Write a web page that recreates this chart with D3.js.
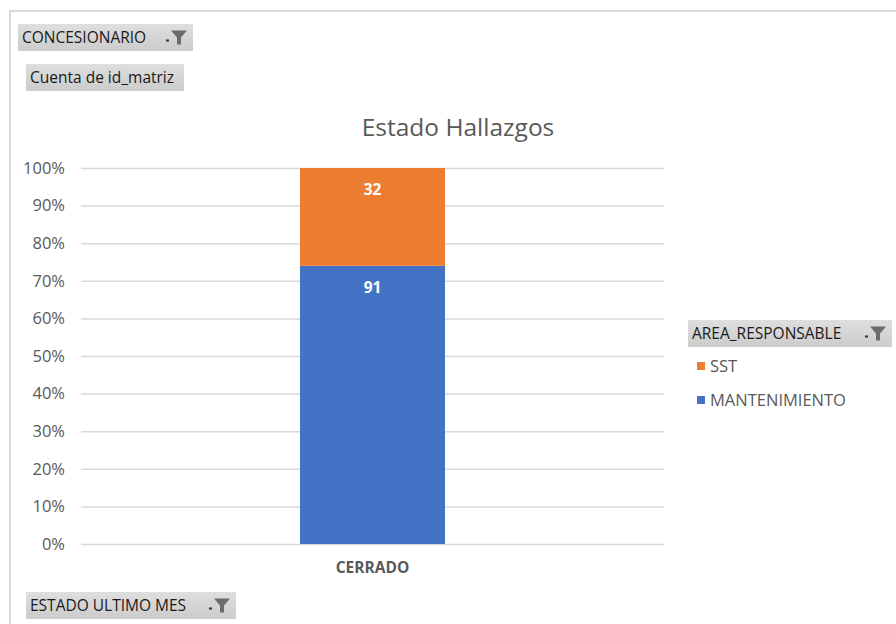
<!DOCTYPE html>
<html>
<head>
<meta charset="utf-8">
<script src="https://cdn.jsdelivr.net/npm/d3@7"></script>
<style>
  body { margin: 0; background: #fff; }
  svg { display: block; font-family: "Open Sans", sans-serif; }
</style>
</head>
<body>
<svg id="chart" width="896" height="624"></svg>
<script>
// data
const categories = ["CERRADO"];
const seriesNames = ["MANTENIMIENTO", "SST"];
const seriesColors = ["#4472c4", "#ed7d31"];
const mantenimiento = [91];
const sst = [32];
const yTicks = [0, 0.1, 0.2, 0.3, 0.4, 0.5, 0.6, 0.7, 0.8, 0.9, 1];

const svg = d3.select("#chart");
const grey = "#595959";

// outer frame
svg.append("path")
  .attr("d", "M10,624 V11 H896")
  .attr("fill", "none")
  .attr("stroke", "#d9d9d9")
  .attr("stroke-width", 2);

// button gradient
const defs = svg.append("defs");
const grad = defs.append("linearGradient").attr("id", "btn").attr("x1", 0).attr("y1", 0).attr("x2", 0).attr("y2", 1);
grad.append("stop").attr("offset", "0%").attr("stop-color", "#dedede");
grad.append("stop").attr("offset", "100%").attr("stop-color", "#cccccc");

function fieldButton(x, y, w, h, label, filter) {
  const g = svg.append("g").attr("transform", `translate(${x},${y})`);
  g.append("rect").attr("width", w).attr("height", h).attr("fill", "url(#btn)");
  g.append("text")
    .attr("x", 4).attr("y", h / 2 + 5.5)
    .attr("font-size", 15.5).attr("fill", "#1a1a1a")
    .text(label);
  if (filter) {
    const fx = w - 26;
    g.append("rect").attr("x", fx - 1).attr("y", h / 2 + 2).attr("width", 3).attr("height", 2).attr("fill", "#333");
    g.append("path")
      .attr("d", `M${fx + 4},${h / 2 - 7} h16 l-6,7 v7 h-4 v-7 z`)
      .attr("fill", "#6b6b6b");
  }
}

fieldButton(18, 24, 175, 27, "CONCESIONARIO", true);
fieldButton(26, 64, 158, 27, "Cuenta de id_matriz", false);
fieldButton(26, 592, 210, 27, "ESTADO ULTIMO MES", true);
fieldButton(688, 320, 204, 27, "AREA_RESPONSABLE", true);

// title
svg.append("text")
  .attr("x", 458).attr("y", 136)
  .attr("text-anchor", "middle")
  .attr("font-size", 24.5).attr("fill", grey)
  .text("Estado Hallazgos");

// scales
const x = d3.scaleBand().domain(categories).range([81, 664]).paddingInner(0).paddingOuter(0.5);
const y = d3.scaleLinear().domain([0, 1]).range([544, 168]);

// grid
const yAxis = d3.axisLeft(y).tickValues(yTicks).tickFormat(d3.format(".0%")).tickSize(-(664 - 81)).tickPadding(16);
const ga = svg.append("g").attr("transform", "translate(81,0)").call(yAxis);
ga.select(".domain").remove();
ga.selectAll(".tick line").attr("stroke", "#d9d9d9").attr("stroke-width", 1.5);
ga.selectAll(".tick text").attr("fill", grey).attr("font-size", 16.5).attr("font-family", "Open Sans, sans-serif");

// stacked bars (100%)
const rows = categories.map((c, i) => ({ cat: c, MANTENIMIENTO: mantenimiento[i], SST: sst[i] }));
const stack = d3.stack().keys(seriesNames).offset(d3.stackOffsetExpand);
const layers = stack(rows);
const barW = 145;
const color = d3.scaleOrdinal().domain(seriesNames).range(seriesColors);

layers.forEach(layer => {
  const g = svg.append("g");
  layer.forEach(d => {
    const cx = x(d.data.cat) + x.bandwidth() / 2;
    g.append("rect")
      .attr("x", cx - barW / 2)
      .attr("y", y(d[1]))
      .attr("width", barW)
      .attr("height", y(d[0]) - y(d[1]))
      .attr("fill", color(layer.key));
    g.append("text")
      .attr("x", cx)
      .attr("y", y(d[1]) + 27)
      .attr("text-anchor", "middle")
      .attr("font-size", 15.5).attr("font-weight", "bold").attr("fill", "#fff")
      .text(d.data[layer.key]);
  });
});

// x axis labels
categories.forEach(c => {
  svg.append("text")
    .attr("x", x(c) + x.bandwidth() / 2).attr("y", 573)
    .attr("text-anchor", "middle")
    .attr("font-size", 15.5).attr("font-weight", "bold").attr("fill", grey)
    .text(c);
});

// legend (SST on top)
const legendItems = seriesNames.slice().reverse();
legendItems.forEach((name, i) => {
  const ly = 366 + i * 34;
  svg.append("rect").attr("x", 697).attr("y", ly - 4).attr("width", 8).attr("height", 8).attr("fill", color(name));
  svg.append("text").attr("x", 710).attr("y", ly + 6)
    .attr("font-size", 16.5).attr("fill", grey).text(name);
});
</script>
</body>
</html>
